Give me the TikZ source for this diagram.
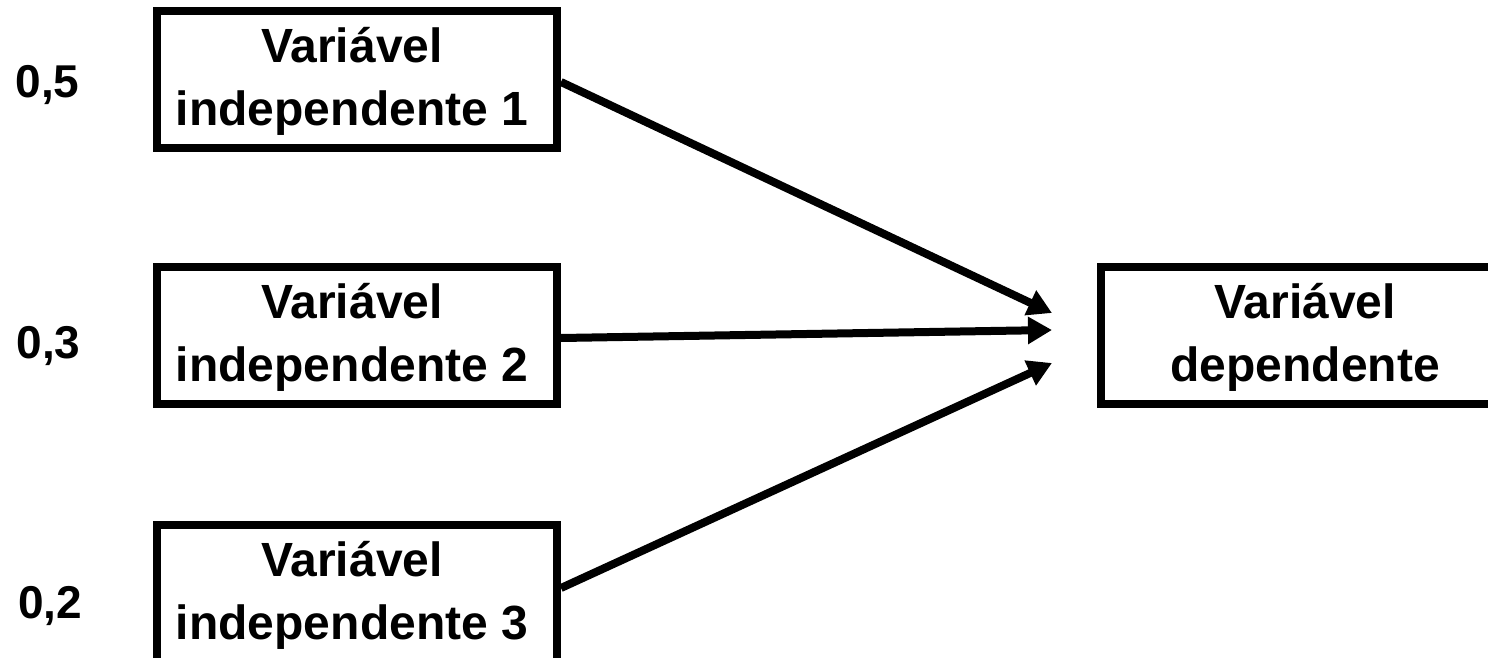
\documentclass[tikz,border=0pt]{standalone}
\usepackage{fontspec}
\setmainfont{Liberation Sans}
\usetikzlibrary{arrows.meta}
\begin{document}
\begin{tikzpicture}[x=1pt,y=-1pt,
  varbox/.style={draw=black,line width=8pt,inner sep=0pt,
    minimum width=400pt,minimum height=137pt},
  vartext/.style={inner sep=0pt,align=center,
    font=\fontsize{48}{63}\selectfont\bfseries},
  weight/.style={anchor=base,font=\fontsize{46}{55}\selectfont\bfseries},
  link/.style={line width=8pt,-{Triangle[length=24pt,width=26pt]}}]
\useasboundingbox (0,0) rectangle (1488,658);
\clip (0,0) rectangle (1488,658);
% independent variables
\node[varbox] (b1) at (357,79.5) {};
\node[varbox] (b2) at (357,335.5) {};
\node[varbox] (b3) at (357,593.5) {};
\node[vartext] (l1) at (352,81) {Variável\\independente 1};
\node[vartext] (l2) at (352,337) {Variável\\independente 2};
\node[vartext] (l3) at (352,595) {Variável\\independente 3};
% dependent variable (runs off the right edge)
\node[varbox,minimum width=440pt] (dep) at (1321,335.5) {};
\node[vartext] (ld) at (1305,337) {Variável\\dependente};
% weights
\node[weight] (w1) at (47.5,98) {0,5};
\node[weight] (w2) at (48.5,358) {0,3};
\node[weight] (w3) at (50,618) {0,2};
% arrow tips in front of the dependent box
\coordinate (t1) at (1052,313);
\coordinate (t2) at (1052,330);
\coordinate (t3) at (1052,363);
\draw[link] ([yshift=-2.5pt]b1.east) -- (t1);
\draw[link] ([yshift=-2.5pt]b2.east) -- (t2);
\draw[link] ([yshift=5.5pt]b3.east) -- (t3);
\end{tikzpicture}
\end{document}
